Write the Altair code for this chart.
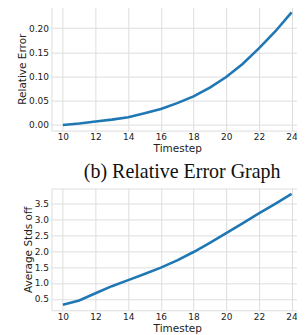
import altair as alt
import pandas as pd

timesteps = list(range(10, 25))
rel_error = [0.000, 0.003, 0.007, 0.011, 0.016, 0.024, 0.033, 0.045, 0.059, 0.077,
             0.099, 0.126, 0.158, 0.193, 0.2325]
stds_off = [0.32, 0.45, 0.68, 0.90, 1.09, 1.28, 1.48, 1.71, 1.97, 2.26,
            2.56, 2.87, 3.18, 3.48, 3.79]
x_ticks = [10, 12, 14, 16, 18, 20, 22, 24]
y1_ticks = [0.0, 0.05, 0.10, 0.15, 0.20]
y2_ticks = [0.5, 1.0, 1.5, 2.0, 2.5, 3.0, 3.5]
caption = "(b) Relative Error Graph"

df1 = pd.DataFrame({"t": timesteps, "v": rel_error})
df2 = pd.DataFrame({"t": timesteps, "v": stds_off})

BLUE = "#1f77b4"
FONT = "DejaVu Sans"


def xaxis():
    return alt.Axis(values=x_ticks, title="Timestep", grid=True, ticks=False,
                    labelPadding=2, labelFontSize=9, titleFontSize=10.5,
                    titlePadding=2, labelFont=FONT, titleFont=FONT,
                    titleFontWeight="normal", labelColor="#222", titleColor="#222",
                    gridColor="#dedede", domain=False)


def yaxis(title, ticks, fmt):
    return alt.Axis(values=ticks, title=title, format=fmt, grid=True, ticks=False,
                    labelPadding=3, labelFontSize=9, titleFontSize=10.5,
                    titlePadding=1, labelFont=FONT, titleFont=FONT,
                    titleFontWeight="normal", labelColor="#222", titleColor="#222",
                    gridColor="#dedede", domain=False)


top = alt.Chart(df1).mark_line(color=BLUE, strokeWidth=2.6).encode(
    x=alt.X("t:Q", scale=alt.Scale(domain=[9.3, 24.7], nice=False, zero=False), axis=xaxis()),
    y=alt.Y("v:Q", scale=alt.Scale(domain=[-0.0116, 0.244], nice=False, zero=False),
            axis=yaxis("Relative Error", y1_ticks, ".2f")),
).properties(width=252, height=124)

bottom = alt.Chart(df2).mark_line(color=BLUE, strokeWidth=2.6).encode(
    x=alt.X("t:Q", scale=alt.Scale(domain=[9.3, 24.7], nice=False, zero=False), axis=xaxis()),
    y=alt.Y("v:Q", scale=alt.Scale(domain=[0.146, 3.96], nice=False, zero=False),
            axis=yaxis("Average Stds off", y2_ticks, ".1f")),
).properties(
    width=252, height=122,
    title=alt.TitleParams(caption, font="Liberation Serif", fontSize=20,
                          fontWeight="normal", color="#111", offset=6, dx=5),
)

chart = alt.vconcat(top, bottom, spacing=7).properties(
    padding={"top": -2.5, "left": 8.5, "right": -7, "bottom": 0}
).configure_view(stroke="#999999", strokeWidth=1).configure(background="white")

chart.save("out.html", embed_options={"renderer": "svg", "actions": False})
